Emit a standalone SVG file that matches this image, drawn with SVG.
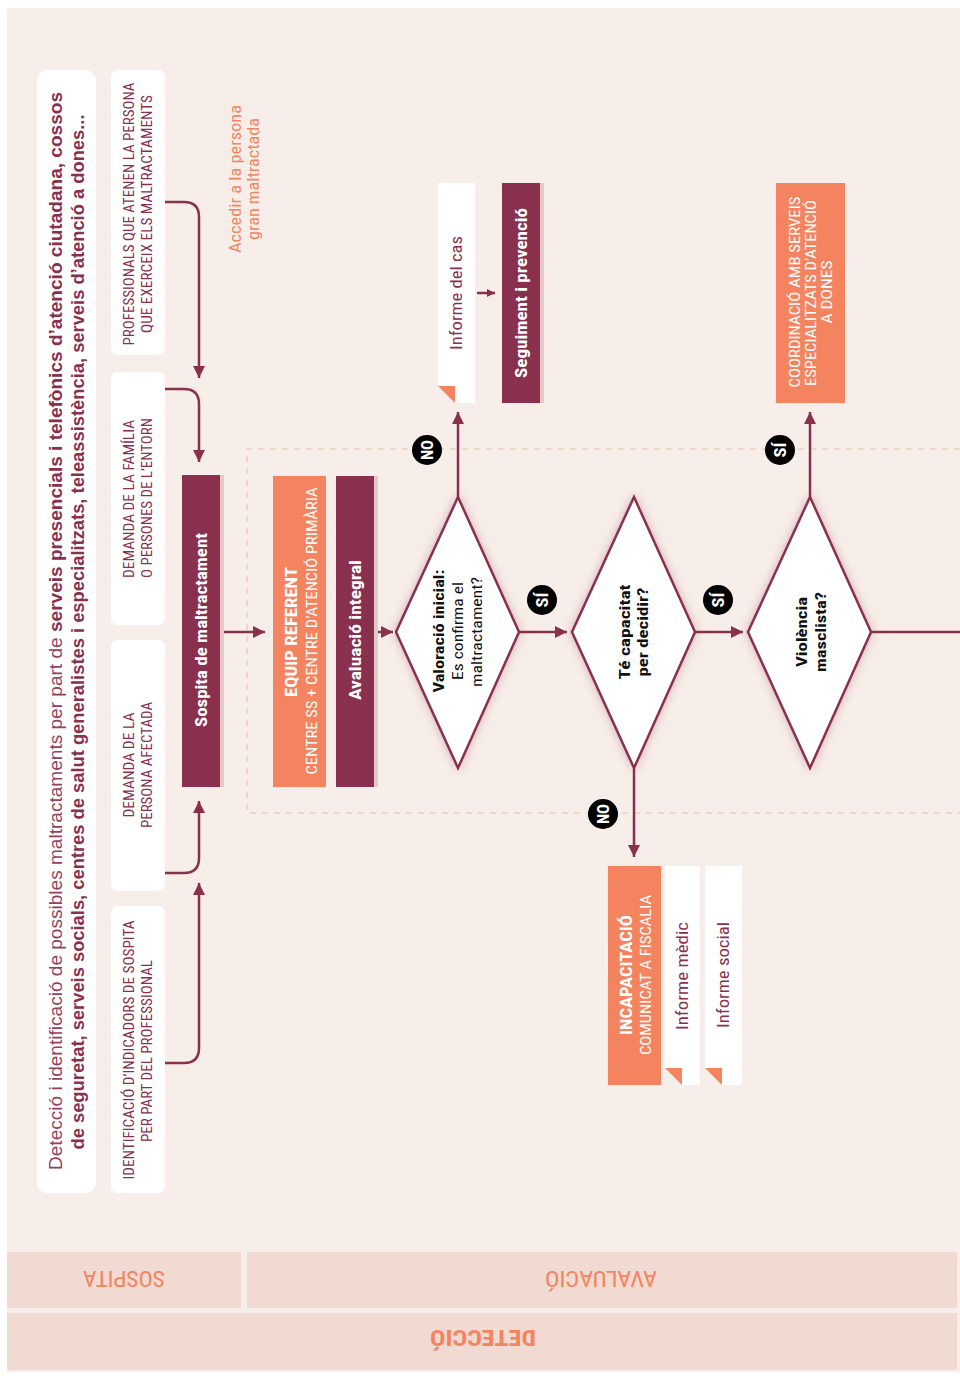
<svg xmlns="http://www.w3.org/2000/svg" width="960" height="1376" viewBox="0 0 960 1376">
<defs>
<marker id="ah" markerUnits="userSpaceOnUse" markerWidth="12" markerHeight="12" refX="10" refY="5" orient="auto" viewBox="0 0 10 10">
<path d="M0,0 L10,5 L0,10 z" fill="#88304E"/>
</marker>
<marker id="ahs" markerUnits="userSpaceOnUse" markerWidth="8" markerHeight="8" refX="8" refY="4" orient="auto" viewBox="0 0 8 8">
<path d="M0,0 L8,4 L0,8 z" fill="#88304E"/>
</marker>
<filter id="glow" x="-30%" y="-30%" width="160%" height="160%">
<feGaussianBlur in="SourceAlpha" stdDeviation="5" result="b"/>
<feFlood flood-color="#88304E" flood-opacity="0.35"/>
<feComposite in2="b" operator="in"/>
<feMerge><feMergeNode/><feMergeNode in="SourceGraphic"/></feMerge>
</filter>
</defs>
<style>
.cn{font-family:"Liberation Sans Narrow","Roboto Condensed","Liberation Sans",Arial,sans-serif}
.lbl{font-size:14px;fill:#88304E}
.wb{font-size:17px;font-weight:bold;fill:#FFFFFF}
.wt{font-size:15px;fill:#FFFFFF}
.dq{font-size:15px;font-weight:bold;fill:#111111}
.dn{font-size:15px;fill:#111111}
.inf{font-size:17px;fill:#88304E}
.badge{font-size:17px;font-weight:bold;fill:#FFFFFF}
.con{fill:none;stroke:#88304E;stroke-width:2.5}
.mar{fill:#88304E}
.org{fill:#F4845F}
.shd{fill:#E4C9C8}
.dia{fill:#FFFFFF;stroke:#88304E;stroke-width:2.5}
.band{fill:#F0DAD2}
</style>
<rect x="0" y="0" width="960" height="1376" fill="#FFFFFF"/>
<rect x="7" y="8" width="953" height="1364" fill="#F8EEE9"/>

<!-- bottom bands -->
<g id="band-sospita">
<rect class="band" x="7" y="1252" width="234" height="56"/>
<text class="cn" transform="translate(124,1279) rotate(180)" y="8" text-anchor="middle" font-size="22" fill="#F4845F" textLength="82" lengthAdjust="spacingAndGlyphs">SOSPITA</text>
</g>
<g id="band-avaluacio">
<rect class="band" x="247" y="1252" width="710" height="56"/>
<text class="cn" transform="translate(601,1279) rotate(180)" y="8" text-anchor="middle" font-size="22" fill="#F4845F" textLength="112" lengthAdjust="spacingAndGlyphs">AVALUACIÓ</text>
</g>
<g id="band-deteccio">
<rect class="band" x="7" y="1313" width="950" height="57"/>
<text class="cn" transform="translate(483,1338) rotate(180)" y="8" text-anchor="middle" font-size="22" font-weight="bold" fill="#F4845F" textLength="106" lengthAdjust="spacingAndGlyphs">DETECCIÓ</text>
</g>

<!-- dashed evaluation region -->
<path d="M960,449 H247 V813 H960" fill="none" stroke="#EFD6CD" stroke-width="2" stroke-dasharray="6 6"/>

<!-- title -->
<g id="title">
<rect x="37" y="70" width="59" height="1123" rx="11" fill="#FFFFFF"/>
<text class="cn" transform="translate(62,631) rotate(-90)" text-anchor="middle" font-size="18" fill="#88304E" textLength="1078" lengthAdjust="spacingAndGlyphs"><tspan font-family="Liberation Sans, Arial, sans-serif" fill="#93415E">Detecció i identificació de possibles maltractaments per part de </tspan><tspan font-family="Liberation Sans, Arial, sans-serif" font-weight="bold">serveis presencials i telefònics d’atenció ciutadana, cossos</tspan></text>
<text transform="translate(84,632) rotate(-90)" text-anchor="middle" font-family="Liberation Sans, Arial, sans-serif" font-size="18" font-weight="bold" fill="#88304E" textLength="1035" lengthAdjust="spacingAndGlyphs">de seguretat, serveis socials, centres de salut generalistes i especialitzats, teleassistència, serveis d’atenció a dones...</text>
</g>

<!-- left source boxes -->
<g id="src-professionals">
<rect x="111" y="70" width="54" height="285" rx="7" fill="#FFFFFF"/>
<text class="cn lbl" transform="translate(134,214) rotate(-90)" text-anchor="middle" textLength="263" lengthAdjust="spacingAndGlyphs">PROFESSIONALS QUE ATENEN LA PERSONA</text>
<text class="cn lbl" transform="translate(152,214) rotate(-90)" text-anchor="middle" textLength="238" lengthAdjust="spacingAndGlyphs">QUE EXERCEIX ELS MALTRACTAMENTS</text>
</g>
<g id="src-familia">
<rect x="111" y="372" width="54" height="253" rx="7" fill="#FFFFFF"/>
<text class="cn lbl" transform="translate(134,499) rotate(-90)" text-anchor="middle" textLength="158" lengthAdjust="spacingAndGlyphs">DEMANDA DE LA FAMÍLIA</text>
<text class="cn lbl" transform="translate(152,498) rotate(-90)" text-anchor="middle" textLength="160" lengthAdjust="spacingAndGlyphs">O PERSONES DE L’ENTORN</text>
</g>
<g id="src-persona">
<rect x="111" y="640" width="54" height="251" rx="7" fill="#FFFFFF"/>
<text class="cn lbl" transform="translate(134,765) rotate(-90)" text-anchor="middle" textLength="105" lengthAdjust="spacingAndGlyphs">DEMANDA DE LA</text>
<text class="cn lbl" transform="translate(152,765) rotate(-90)" text-anchor="middle" textLength="126" lengthAdjust="spacingAndGlyphs">PERSONA AFECTADA</text>
</g>
<g id="src-indicadors">
<rect x="111" y="906" width="54" height="287" rx="7" fill="#FFFFFF"/>
<text class="cn lbl" transform="translate(134,1050) rotate(-90)" text-anchor="middle" textLength="259" lengthAdjust="spacingAndGlyphs">IDENTIFICACIÓ D’INDICADORS DE SOSPITA</text>
<text class="cn lbl" transform="translate(152,1051) rotate(-90)" text-anchor="middle" textLength="182" lengthAdjust="spacingAndGlyphs">PER PART DEL PROFESSIONAL</text>
</g>

<g id="note-accedir">
<text class="cn" transform="translate(241,179) rotate(-90)" text-anchor="middle" font-size="17" fill="#F4845F" textLength="148" lengthAdjust="spacingAndGlyphs">Accedir a la persona</text>
<text class="cn" transform="translate(259,179) rotate(-90)" text-anchor="middle" font-size="17" fill="#F4845F" textLength="122" lengthAdjust="spacingAndGlyphs">gran maltractada</text>
</g>

<!-- main nodes -->
<g id="sospita">
<rect class="shd" x="182" y="475" width="42" height="312"/>
<rect class="mar" x="182" y="475" width="38" height="312"/>
<text class="cn wb" transform="translate(207,630) rotate(-90)" text-anchor="middle" textLength="194" lengthAdjust="spacingAndGlyphs">Sospita de maltractament</text>
</g>
<g id="equip-referent">
<rect class="org" x="273" y="476" width="53" height="311"/>
<text class="cn wb" transform="translate(297,632) rotate(-90)" text-anchor="middle" textLength="130" lengthAdjust="spacingAndGlyphs">EQUIP REFERENT</text>
<text class="cn wt" transform="translate(317,631) rotate(-90)" text-anchor="middle" textLength="287" lengthAdjust="spacingAndGlyphs">CENTRE SS + CENTRE D’ATENCIÓ PRIMÀRIA</text>
</g>
<g id="avaluacio-integral">
<rect class="shd" x="336" y="476" width="42" height="311"/>
<rect class="mar" x="336" y="476" width="38" height="311"/>
<text class="cn wb" transform="translate(361,630) rotate(-90)" text-anchor="middle" textLength="140" lengthAdjust="spacingAndGlyphs">Avaluació integral</text>
</g>

<g id="valoracio-inicial">
<polygon class="dia" filter="url(#glow)" points="396,632 458,497 519,632 458,768"/>
<text class="cn dq" transform="translate(444,631) rotate(-90)" text-anchor="middle" textLength="123" lengthAdjust="spacingAndGlyphs">Valoració inicial:</text>
<text class="cn dn" transform="translate(463,631) rotate(-90)" text-anchor="middle" textLength="98" lengthAdjust="spacingAndGlyphs">Es confirma el</text>
<text class="cn dn" transform="translate(482,632) rotate(-90)" text-anchor="middle" textLength="110" lengthAdjust="spacingAndGlyphs">maltractament?</text>
</g>

<g id="informe-cas">
<polygon fill="#FFFFFF" points="438,183 475,183 475,403 455,403 438,386"/>
<polygon class="org" points="438,386 455,386 455,403"/>
<text class="cn inf" transform="translate(462,293) rotate(-90)" text-anchor="middle" textLength="114" lengthAdjust="spacingAndGlyphs">Informe del cas</text>
</g>
<g id="seguiment">
<rect class="shd" x="502" y="183" width="42" height="220"/>
<rect class="mar" x="502" y="183" width="38" height="220"/>
<text class="cn wb" transform="translate(527,293) rotate(-90)" text-anchor="middle" textLength="170" lengthAdjust="spacingAndGlyphs">Seguiment i prevenció</text>
</g>

<g id="capacitat">
<polygon class="dia" filter="url(#glow)" points="572,632 634,497 695,632 634,768"/>
<text class="cn dq" transform="translate(630,632) rotate(-90)" text-anchor="middle" textLength="95" lengthAdjust="spacingAndGlyphs">Té capacitat</text>
<text class="cn dq" transform="translate(648,632) rotate(-90)" text-anchor="middle" textLength="89" lengthAdjust="spacingAndGlyphs">per decidir?</text>
</g>

<g id="incapacitacio">
<rect class="org" x="608" y="866" width="53" height="219"/>
<text class="cn wb" transform="translate(632,975) rotate(-90)" text-anchor="middle" textLength="120" lengthAdjust="spacingAndGlyphs">INCAPACITACIÓ</text>
<text class="cn wt" transform="translate(651,975) rotate(-90)" text-anchor="middle" textLength="160" lengthAdjust="spacingAndGlyphs">COMUNICAT A FISCALIA</text>
</g>
<g id="informe-medic">
<polygon fill="#FFFFFF" points="665,866 700,866 700,1085 682,1085 665,1068"/>
<polygon class="org" points="665,1068 682,1068 682,1085"/>
<text class="cn inf" transform="translate(688,976) rotate(-90)" text-anchor="middle" textLength="108" lengthAdjust="spacingAndGlyphs">Informe mèdic</text>
</g>
<g id="informe-social">
<polygon fill="#FFFFFF" points="705,866 742,866 742,1085 722,1085 705,1068"/>
<polygon class="org" points="705,1068 722,1068 722,1085"/>
<text class="cn inf" transform="translate(729,975) rotate(-90)" text-anchor="middle" textLength="106" lengthAdjust="spacingAndGlyphs">Informe social</text>
</g>

<g id="violencia">
<polygon class="dia" filter="url(#glow)" points="748,632 810,497 871,632 810,768"/>
<text class="cn dq" transform="translate(807,632) rotate(-90)" text-anchor="middle" textLength="70" lengthAdjust="spacingAndGlyphs">Violència</text>
<text class="cn dq" transform="translate(826,632) rotate(-90)" text-anchor="middle" textLength="80" lengthAdjust="spacingAndGlyphs">masclista?</text>
</g>

<g id="coordinacio">
<rect class="org" x="776" y="183" width="69" height="220"/>
<text class="cn wt" transform="translate(800,292) rotate(-90)" text-anchor="middle" textLength="191" lengthAdjust="spacingAndGlyphs">COORDINACIÓ AMB SERVEIS</text>
<text class="cn wt" transform="translate(816,293) rotate(-90)" text-anchor="middle" textLength="186" lengthAdjust="spacingAndGlyphs">ESPECIALITZATS D’ATENCIÓ</text>
<text class="cn wt" transform="translate(832,292) rotate(-90)" text-anchor="middle" textLength="63" lengthAdjust="spacingAndGlyphs">A DONES</text>
</g>

<!-- connectors -->
<g id="connectors">
<path class="con" d="M165,202 H184 Q199,202 199,217 V378" marker-end="url(#ah)"/>
<path class="con" d="M165,389 H184 Q199,389 199,404 V462" marker-end="url(#ah)"/>
<path class="con" d="M165,873 H184 Q199,873 199,858 V801" marker-end="url(#ah)"/>
<path class="con" d="M165,1063 H184 Q199,1063 199,1048 V883" marker-end="url(#ah)"/>
<path class="con" d="M224,632 H265" marker-end="url(#ah)"/>
<path class="con" d="M378,632 H393" marker-end="url(#ah)"/>
<path class="con" d="M519,632 H567" marker-end="url(#ah)"/>
<path class="con" d="M695,632 H743" marker-end="url(#ah)"/>
<path class="con" d="M871,632 H960"/>
<path class="con" d="M458,497 V412" marker-end="url(#ah)"/>
<path class="con" d="M634,768 V857" marker-end="url(#ah)"/>
<path class="con" d="M810,497 V412" marker-end="url(#ah)"/>
<path class="con" stroke-width="1.5" d="M477,293 H495" marker-end="url(#ahs)"/>
</g>

<!-- badges -->
<g id="badge-no-1">
<circle cx="427" cy="450" r="15" fill="#000000"/>
<text class="cn badge" transform="translate(433,450) rotate(-90)" text-anchor="middle" textLength="20" lengthAdjust="spacingAndGlyphs">NO</text>
</g>
<g id="badge-si-1">
<circle cx="542" cy="600" r="15" fill="#000000"/>
<text class="cn badge" transform="translate(548,600) rotate(-90)" text-anchor="middle" textLength="15" lengthAdjust="spacingAndGlyphs">SÍ</text>
</g>
<g id="badge-si-2">
<circle cx="718" cy="600" r="15" fill="#000000"/>
<text class="cn badge" transform="translate(724,600) rotate(-90)" text-anchor="middle" textLength="15" lengthAdjust="spacingAndGlyphs">SÍ</text>
</g>
<g id="badge-no-2">
<circle cx="603" cy="814" r="15" fill="#000000"/>
<text class="cn badge" transform="translate(609,814) rotate(-90)" text-anchor="middle" textLength="20" lengthAdjust="spacingAndGlyphs">NO</text>
</g>
<g id="badge-si-3">
<circle cx="780" cy="450" r="15" fill="#000000"/>
<text class="cn badge" transform="translate(786,450) rotate(-90)" text-anchor="middle" textLength="15" lengthAdjust="spacingAndGlyphs">SÍ</text>
</g>
</svg>
